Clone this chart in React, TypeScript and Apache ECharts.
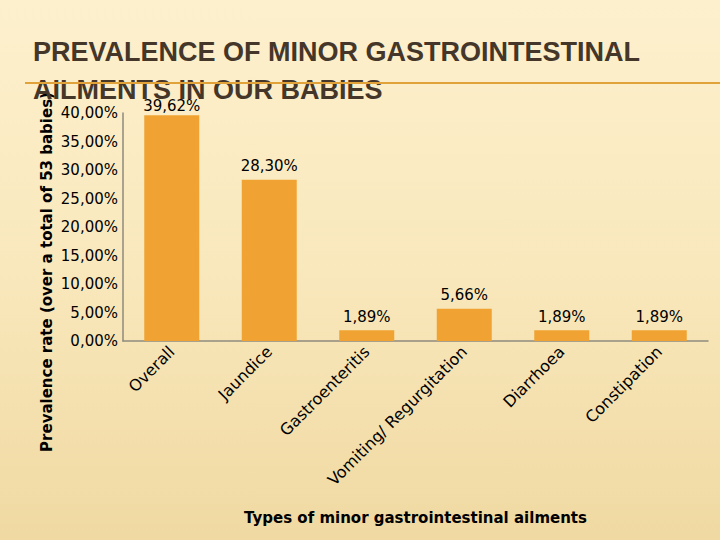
import React, { useEffect, useRef } from "react";
import * as echarts from "echarts";

const categories = [
  "Overall",
  "Jaundice",
  "Gastroenteritis",
  "Vomiting/ Regurgitation",
  "Diarrhoea",
  "Constipation",
];
const prevalence = [39.62, 28.3, 1.89, 5.66, 1.89, 1.89];
const yTicks = { min: 0, max: 40, interval: 5 };

const titleText = "PREVALENCE OF MINOR GASTROINTESTINAL\nAILMENTS IN OUR BABIES";
const yName = "Prevalence rate (over a total of 53 babies)";
const xName = "Types of minor gastrointestinal ailments";

const fmt = (v: number) => v.toFixed(2).replace(".", ",") + "%";

export default function App() {
  const ref = useRef<HTMLDivElement>(null);
  useEffect(() => {
    if (!ref.current) return;
    const chart = echarts.init(ref.current, undefined, { renderer: "svg" });
    const barData = prevalence.map((v, i) =>
      i === 0 ? { value: v, label: { distance: 2 } } : v
    );
    chart.setOption({
      animation: false,
      backgroundColor: {
        type: "linear",
        x: 0,
        y: 0,
        x2: 0,
        y2: 1,
        colorStops: [
          { offset: 0, color: "#fdf0cd" },
          { offset: 0.5, color: "#f9e8bc" },
          { offset: 1, color: "#f0d9a2" },
        ],
      },
      title: {
        text: titleText,
        left: 33,
        top: 33,
        padding: 0,
        textStyle: {
          fontFamily: "Liberation Sans, Arial, sans-serif",
          fontSize: 27,
          fontWeight: "bold",
          color: "#45362a",
          lineHeight: 38,
        },
      },
      graphic: [
        {
          type: "line",
          z: 100,
          shape: { x1: 25, y1: 83, x2: 720, y2: 83 },
          style: { stroke: "#e2a23a", lineWidth: 2 },
        },
        {
          type: "text",
          x: 47,
          y: 272,
          rotation: Math.PI / 2,
          style: {
            text: yName,
            font: "bold 15px 'DejaVu Sans'",
            fill: "#000",
            align: "center",
            verticalAlign: "middle",
          },
        },
      ],
      grid: { left: 123, right: 12, top: 113, bottom: 199 },
      xAxis: {
        type: "category",
        data: categories,
        name: xName,
        nameLocation: "middle",
        nameGap: 169,
        nameTextStyle: {
          fontFamily: "DejaVu Sans",
          fontWeight: "bold",
          fontSize: 15,
          color: "#000",
        },
        axisLine: { show: true, lineStyle: { color: "#8e8a7e", width: 1.5 } },
        axisTick: { show: false },
        axisLabel: {
          rotate: 45,
          interval: 0,
          margin: 8,
          fontFamily: "DejaVu Sans",
          fontSize: 16,
          color: "#000",
        },
      },
      yAxis: {
        type: "value",
        min: yTicks.min,
        max: yTicks.max,
        interval: yTicks.interval,
        axisLine: { show: true, lineStyle: { color: "#8e8a7e", width: 1.5 } },
        axisTick: { show: false },
        splitLine: { show: false },
        axisLabel: {
          margin: 5,
          fontFamily: "DejaVu Sans",
          fontSize: 15,
          color: "#000",
          formatter: (v: number) => fmt(v),
        },
      },
      series: [
        {
          type: "bar",
          data: barData,
          barWidth: 55,
          itemStyle: { color: "#f0a332" },
          label: {
            show: true,
            position: "top",
            distance: 6,
            fontFamily: "DejaVu Sans",
            fontSize: 15,
            color: "#000",
            formatter: (p: any) => fmt(p.value),
          },
        },
      ],
    });
    return () => chart.dispose();
  }, []);
  return (
    <div
      ref={ref}
      style={{ position: "fixed", left: 0, top: 0, width: 720, height: 540 }}
    />
  );
}
